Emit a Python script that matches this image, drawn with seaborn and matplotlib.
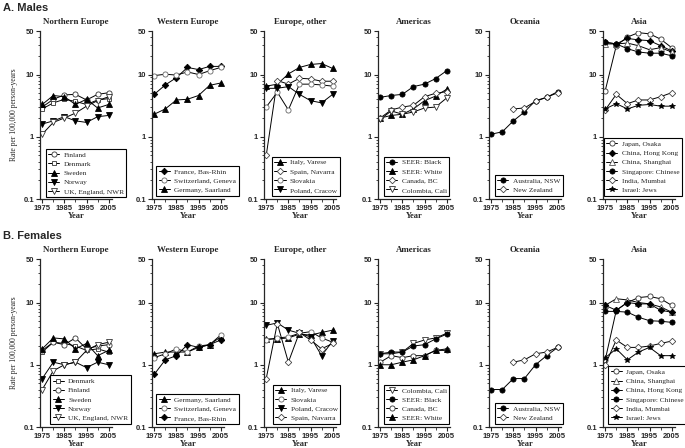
import numpy as np
import pandas as pd
import seaborn as sns
import matplotlib
matplotlib.use("Agg")
import matplotlib.pyplot as plt
from matplotlib.lines import Line2D
from matplotlib.ticker import FixedLocator, NullFormatter, FixedFormatter, LogLocator

nan = np.nan
years = [1975, 1980, 1985, 1990, 1995, 2000, 2005]
ytick_vals = [0.1, 1, 10, 50]
ytick_labels = ["0.1", "1", "10", "50"]
xtick_vals = [1975, 1985, 1995, 2005]
xtick_labels = ["1975", "1985", "1995", "2005"]

# ---------------- Males ----------------
m_finland = [3.0, 4.0, 4.7, 4.8, 3.9, 4.8, 5.1]
m_denmark = [2.8, 3.5, 4.0, 3.7, 3.3, 3.9, 4.1]
m_sweden = [3.3, 4.6, 4.4, 3.3, 4.0, 2.9, 3.3]
m_norway = [1.6, 1.8, 2.1, 1.8, 1.7, 2.1, 2.2]
m_uk = [1.1, 1.7, 2.0, 2.4, 3.1, 3.8, 4.4]

m_france = [4.8, 6.8, 8.9, 13.0, 12.0, 13.5, 13.5]
m_swiss = [9.6, 10.1, 9.8, 11.0, 10.0, 11.5, 13.0]
m_germany = [2.3, 2.8, 3.9, 4.0, 4.6, 6.7, 7.3]

m_italy = [6.5, 7.0, 10.2, 13.0, 14.5, 15.0, 12.5]
m_spain = [0.5, 8.0, 7.0, 8.7, 8.5, 7.8, 7.8]
m_slovakia = [3.0, 5.2, 2.7, 7.0, 7.0, 6.8, 6.5]
m_poland = [6.0, 6.0, 6.4, 4.8, 3.8, 3.5, 4.8]

m_seer_black = [4.3, 4.6, 4.8, 6.4, 7.0, 8.6, 11.5]
m_seer_white = [2.0, 2.2, 2.3, 2.8, 3.8, 4.5, 5.8]
m_canada = [2.0, 2.7, 3.0, 3.2, 4.4, 5.0, 5.3]
m_colombia = [1.9, 2.6, 2.3, 2.5, 2.9, 3.0, 4.2]

m_australia = [1.1, 1.2, 1.8, 2.5, 3.8, 4.3, 5.3]
m_nz = [nan, nan, 2.8, 2.9, 3.7, 4.3, 5.1]

m_japan = [5.5, 29.0, 40.0, 47.0, 45.0, 37.0, 27.0]
m_hongkong = [33.0, 31.0, 38.0, 36.0, 35.0, 29.0, 24.0]
m_shanghai = [31.0, 31.0, 32.0, 29.0, 25.0, 27.0, 23.0]
m_singapore = [33.0, 31.0, 26.0, 23.0, 22.0, 22.0, 20.0]
m_india = [2.7, 4.8, 3.4, 3.9, 3.9, 4.4, 5.1]
m_israel = [2.8, 3.4, 2.8, 3.2, 3.3, 3.1, 3.1]

# ---------------- Females ----------------
f_denmark = [1.6, 2.3, 2.2, 2.0, 1.7, 1.8, 1.6]
f_finland = [1.7, 2.3, 2.1, 2.7, 1.8, 2.0, 2.1]
f_sweden = [1.8, 2.7, 2.6, 1.8, 2.2, 1.4, 1.7]
f_norway = [0.6, 1.1, 1.0, 1.1, 0.9, 1.1, 1.0]
f_uk = [0.4, 0.8, 1.0, 1.1, 1.7, 2.1, 2.3]

f_germany = [1.5, 1.6, 1.6, 1.6, 1.9, 2.1, 2.8]
f_swiss = [1.3, 1.5, 1.8, 1.6, 2.0, 2.1, 3.0]
f_france = [0.7, 1.2, 1.4, 2.1, 1.9, 2.1, 2.5]

f_italy = [2.6, 2.6, 2.7, 3.1, 3.0, 3.3, 3.6]
f_slovakia = [2.5, 2.7, 2.8, 3.2, 3.4, 2.7, 2.3]
f_poland = [4.3, 4.7, 3.6, 3.2, 2.8, 1.4, 2.4]
f_spain = [0.6, 4.6, 1.1, 3.3, 2.5, 1.8, 2.2]

f_colombia = [1.5, 1.5, 1.6, 2.2, 2.5, 2.7, 3.2]
f_seer_black = [1.5, 1.6, 1.6, 2.0, 2.1, 2.6, 3.1]
f_canada = [1.1, 1.4, 1.3, 1.4, 1.4, 1.7, 1.7]
f_seer_white = [1.0, 1.0, 1.1, 1.2, 1.4, 1.7, 1.8]

f_australia = [0.4, 0.4, 0.6, 0.6, 1.0, 1.4, 1.9]
f_nz = [nan, nan, 1.1, 1.2, 1.5, 1.6, 1.9]

f_japan = [1.2, 7.5, 10.0, 12.0, 12.5, 11.5, 9.0]
f_shanghai = [9.0, 11.5, 11.0, 10.0, 9.5, 8.5, 7.0]
f_hongkong = [9.0, 7.5, 10.0, 9.5, 9.5, 7.5, 7.0]
f_singapore = [7.2, 7.2, 7.0, 5.8, 5.1, 5.0, 4.8]
f_india = [1.0, 2.5, 1.9, 1.9, 2.0, 2.2, 2.4]
f_israel = [1.3, 1.8, 1.2, 1.6, 1.9, 1.4, 1.4]

titles = ["Northern Europe", "Western Europe", "Europe, other", "Americas", "Oceania", "Asia"]

# marker styles: (marker, facecolor, edgecolor, size)
STY = {
    "oc": ("o", "white", "#333333", 3.7),
    "gc": ("o", "white", "#666666", 3.7),
    "os": ("s", "white", "#333333", 3.5),
    "ft": ("^", "black", "black", 3.9),
    "ot": ("^", "white", "#555555", 3.9),
    "fv": ("v", "black", "black", 3.9),
    "ov": ("v", "white", "#333333", 3.9),
    "fd": ("D", "black", "black", 3.3),
    "od": ("D", "white", "#444444", 3.3),
    "fc": ("o", "black", "black", 3.7),
    "st": ("*", "black", "black", 4.3),
}

males = [
    [("Finland", m_finland, "oc"), ("Denmark", m_denmark, "os"), ("Sweden", m_sweden, "ft"),
     ("Norway", m_norway, "fv"), ("UK, England, NWR", m_uk, "ov")],
    [("France, Bas-Rhin", m_france, "fd"), ("Switzerland, Geneva", m_swiss, "gc"),
     ("Germany, Saarland", m_germany, "ft")],
    [("Italy, Varese", m_italy, "ft"), ("Spain, Navarra", m_spain, "od"),
     ("Slovakia", m_slovakia, "gc"), ("Poland, Cracow", m_poland, "fv")],
    [("SEER: Black", m_seer_black, "fc"), ("SEER: White", m_seer_white, "ft"),
     ("Canada, BC", m_canada, "od"), ("Colombia, Cali", m_colombia, "ov")],
    [("Australia, NSW", m_australia, "fc"), ("New Zealand", m_nz, "od")],
    [("Japan, Osaka", m_japan, "oc"), ("China, Hong Kong", m_hongkong, "fd"),
     ("China, Shanghai", m_shanghai, "ot"), ("Singapore: Chinese", m_singapore, "fc"),
     ("India, Mumbai", m_india, "od"), ("Israel: Jews", m_israel, "st")],
]
females = [
    [("Denmark", f_denmark, "os"), ("Finland", f_finland, "oc"), ("Sweden", f_sweden, "ft"),
     ("Norway", f_norway, "fv"), ("UK, England, NWR", f_uk, "ov")],
    [("Germany, Saarland", f_germany, "ft"), ("Switzerland, Geneva", f_swiss, "gc"),
     ("France, Bas-Rhin", f_france, "fd")],
    [("Italy, Varese", f_italy, "ft"), ("Slovakia", f_slovakia, "gc"),
     ("Poland, Cracow", f_poland, "fv"), ("Spain, Navarra", f_spain, "od")],
    [("Colombia, Cali", f_colombia, "ov"), ("SEER: Black", f_seer_black, "fc"),
     ("Canada, BC", f_canada, "oc"), ("SEER: White", f_seer_white, "ft")],
    [("Australia, NSW", f_australia, "fc"), ("New Zealand", f_nz, "od")],
    [("Japan, Osaka", f_japan, "oc"), ("China, Shanghai", f_shanghai, "ot"),
     ("China, Hong Kong", f_hongkong, "fd"), ("Singapore: Chinese", f_singapore, "fc"),
     ("India, Mumbai", f_india, "od"), ("Israel: Jews", f_israel, "st")],
]

leg_m = [(0.08, 0.01), (0.06, 0.02), (0.11, 0.02), (0.08, 0.02), (0.08, 0.02), (0.01, 0.02)]
leg_f = [(0.14, 0.02), (0.06, 0.02), (0.12, 0.02), (0.08, 0.02), (0.08, 0.02), (0.07, 0.02)]

sns.set_style("ticks")
plt.rcParams["font.family"] = ["Liberation Serif", "DejaVu Serif"]

W, H = 685, 448
fig = plt.figure(figsize=(W / 100, H / 100), dpi=100)

lefts_px = [40, 152, 264, 378, 489, 603]
ax_w_px = 72
rows = [(31, 199, males, leg_m, "A. Males", 8), (259, 427, females, leg_f, "B. Females", 236)]

for top_px, bot_px, groups, legpos, letter, ly in rows:
    fig.text(3 / W, 1 - ly / H, letter, family="Liberation Sans", weight="bold",
             fontsize=8, ha="left", va="center")
    for i, series in enumerate(groups):
        ax = fig.add_axes([lefts_px[i] / W, 1 - bot_px / H, ax_w_px / W, (bot_px - top_px) / H])
        handles = []
        for label, vals, sk in series:
            mk, fc, ec, ms = STY[sk]
            df = pd.DataFrame({"Year": years, "Rate": vals}).dropna()
            sns.lineplot(data=df, x="Year", y="Rate", ax=ax, color="black", lw=0.7,
                         marker=mk, markersize=ms, markerfacecolor=fc, markeredgecolor=ec,
                         markeredgewidth=0.6, errorbar=None, legend=False)
            handles.append(Line2D([0], [0], color="black", lw=0.7, marker=mk, markersize=ms,
                                  markerfacecolor=fc, markeredgecolor=ec, markeredgewidth=0.6,
                                  label=label))
        ax.set_yscale("log")
        ax.set_ylim(0.1, 50)
        ax.set_xlim(1974, 2006.5)
        ax.yaxis.set_major_locator(FixedLocator(ytick_vals))
        ax.yaxis.set_major_formatter(FixedFormatter(ytick_labels))
        ax.yaxis.set_minor_locator(LogLocator(base=10, subs=np.arange(2, 10)))
        ax.yaxis.set_minor_formatter(NullFormatter())
        ax.xaxis.set_major_locator(FixedLocator(xtick_vals))
        ax.xaxis.set_major_formatter(FixedFormatter(xtick_labels))
        ax.xaxis.set_minor_locator(FixedLocator([1980, 1990, 2000]))
        for s in ["top", "right"]:
            ax.spines[s].set_visible(False)
        for s in ["left", "bottom"]:
            ax.spines[s].set_linewidth(0.9)
        ax.tick_params(which="major", direction="out", length=3, width=0.8, pad=1.2)
        ax.tick_params(which="minor", direction="out", length=1.8, width=0.6)
        for t in ax.get_xticklabels() + ax.get_yticklabels():
            t.set_fontfamily("Liberation Sans")
            t.set_fontweight("bold")
            t.set_fontsize(5.5)
        ax.set_title(titles[i], fontsize=6.4, weight="bold", pad=5)
        ax.set_xlabel("Year", fontsize=6, weight="bold")
        ax.xaxis.set_label_coords(0.5, -0.075)
        if i == 0:
            ax.set_ylabel("Rate per 100,000 person-years", fontsize=5.5, labelpad=4)
        else:
            ax.set_ylabel("")
        leg = ax.legend(handles=handles, loc="lower left", bbox_to_anchor=legpos[i],
                        fontsize=5.3, frameon=True, fancybox=False, edgecolor="black",
                        framealpha=1, handlelength=1.5, handletextpad=0.6, borderpad=0.35,
                        labelspacing=0.42, borderaxespad=0)
        leg.get_frame().set_linewidth(0.8)

fig.savefig("out.png", dpi=100)
